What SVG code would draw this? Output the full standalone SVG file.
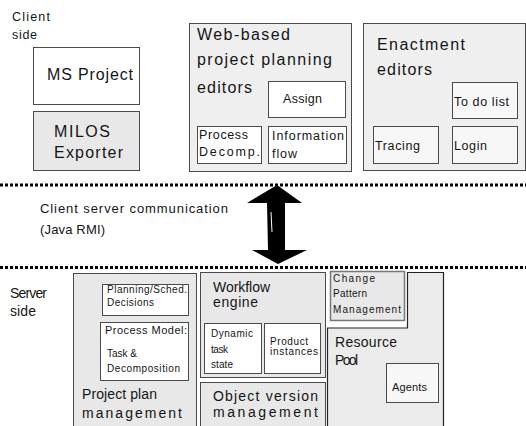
<svg xmlns="http://www.w3.org/2000/svg" width="526" height="426" viewBox="0 0 526 426">
  <style>
    text { font-family: "Liberation Sans", Arial, sans-serif; fill: #151515; }
    .box { stroke: #4a4a4a; stroke-width: 1; }
    .white { fill: #ffffff; }
    .paper { fill: #f7f7f7; }
    .shade { fill: #efefef; }
    .grey { fill: #e8e8e8; }
    .sep { stroke: #000; stroke-width: 3; stroke-dasharray: 3 2; fill: none; }
    .f16 { font-size: 16px; }
    .f14 { font-size: 14px; }
    .f13 { font-size: 13px; }
    .f12 { font-size: 12.5px; }
    .f11 { font-size: 11px; }
    .f10 { font-size: 10px; }
  </style>

  <rect width="526" height="426" fill="#ffffff"/>

  <!-- tier labels -->
  <g id="client-label">
    <text class="f12" x="12" y="21" textLength="38" lengthAdjust="spacing">Client</text>
    <text class="f12" x="12" y="39" textLength="25" lengthAdjust="spacing">side</text>
  </g>
  <g id="server-label">
    <text class="f14" x="10" y="298" textLength="37" lengthAdjust="spacing">Server</text>
    <text class="f14" x="10" y="316" textLength="26" lengthAdjust="spacing">side</text>
  </g>
  <g id="rmi-label">
    <text class="f13" x="40" y="213" textLength="188" lengthAdjust="spacing">Client server communication</text>
    <text class="f13" x="40" y="234" textLength="65" lengthAdjust="spacing">(Java RMI)</text>
  </g>

  <!-- client side -->
  <g id="ms-project">
    <rect class="box white" x="33.5" y="47.5" width="106" height="57"/>
    <text class="f16" x="47" y="80" textLength="86" lengthAdjust="spacing">MS Project</text>
  </g>
  <g id="milos-exporter">
    <rect class="box grey" x="33.5" y="111.5" width="106" height="59"/>
    <text class="f16" x="54" y="137" textLength="56" lengthAdjust="spacing">MILOS</text>
    <text class="f16" x="54" y="158" textLength="69" lengthAdjust="spacing">Exporter</text>
  </g>

  <g id="web-editors">
    <rect class="box shade" x="189.5" y="23.5" width="162" height="148"/>
    <text class="f16" x="197" y="40" textLength="93" lengthAdjust="spacing">Web-based</text>
    <text class="f16" x="197" y="65" textLength="135" lengthAdjust="spacing">project planning</text>
    <text class="f16" x="197" y="93" textLength="55" lengthAdjust="spacing">editors</text>
    <g id="assign">
      <rect class="box white" x="268.5" y="81.5" width="77" height="36"/>
      <text class="f12" x="283" y="103" textLength="39" lengthAdjust="spacing">Assign</text>
    </g>
    <g id="process-decomp">
      <rect class="box white" x="197.5" y="126.5" width="64" height="37"/>
      <text class="f12" x="199" y="139" textLength="49" lengthAdjust="spacing">Process</text>
      <text class="f12" x="199" y="156" textLength="61" lengthAdjust="spacing">Decomp.</text>
    </g>
    <g id="information-flow">
      <rect class="box white" x="268.5" y="126.5" width="78" height="37"/>
      <text class="f12" x="272" y="140" textLength="72" lengthAdjust="spacing">Information</text>
      <text class="f12" x="272" y="158" textLength="25" lengthAdjust="spacing">flow</text>
    </g>
  </g>

  <g id="enactment-editors">
    <rect class="box shade" x="363.5" y="23.5" width="162" height="147"/>
    <text class="f16" x="377" y="50" textLength="88" lengthAdjust="spacing">Enactment</text>
    <text class="f16" x="377" y="75" textLength="55" lengthAdjust="spacing">editors</text>
    <g id="todo-list">
      <rect class="box paper" x="452.5" y="82.5" width="65" height="36"/>
      <text class="f12" x="454" y="106" textLength="55" lengthAdjust="spacing">To do list</text>
    </g>
    <g id="tracing">
      <rect class="box paper" x="373.5" y="126.5" width="65" height="37"/>
      <text class="f12" x="375" y="150" textLength="45" lengthAdjust="spacing">Tracing</text>
    </g>
    <g id="login">
      <rect class="box paper" x="452.5" y="126.5" width="65" height="37"/>
      <text class="f12" x="454" y="150" textLength="33" lengthAdjust="spacing">Login</text>
    </g>
  </g>

  <!-- tier separators -->
  <g id="separators">
    <line class="sep" x1="0" y1="185" x2="526" y2="185"/>
    <line class="sep" x1="0" y1="267.5" x2="526" y2="267.5"/>
  </g>

  <!-- client/server link -->
  <g id="connectors">
    <path d="M277,185 L302,203 L285,203 L285,250 L307,250 L278,264 L252,250 L268,250 L267,203 L247,203 Z" fill="#000"/>
    <path d="M271,212 L272,232" stroke="#ffffff" stroke-width="1" fill="none"/>
  </g>

  <!-- server side -->
  <g id="project-plan-management">
    <rect class="box grey" x="73.5" y="273.5" width="123" height="160"/>
    <g id="planning-decisions">
      <rect class="box white" x="102.5" y="284.5" width="86" height="31"/>
      <text class="f10" x="107" y="293" textLength="80" lengthAdjust="spacing">Planning/Sched.</text>
      <text class="f10" x="107" y="306" textLength="47" lengthAdjust="spacing">Decisions</text>
    </g>
    <g id="process-model">
      <rect class="box white" x="100.5" y="322.5" width="88" height="58"/>
      <text class="f11" x="105" y="334" textLength="82" lengthAdjust="spacing">Process Model:</text>
      <text class="f10" x="107" y="357">Task &amp;</text>
      <text class="f10" x="107" y="372" textLength="73" lengthAdjust="spacing">Decomposition</text>
    </g>
    <text class="f14" x="82" y="399" textLength="75" lengthAdjust="spacing">Project plan</text>
    <text class="f14" x="82" y="418" textLength="100" lengthAdjust="spacing">management</text>
  </g>

  <g id="workflow-engine">
    <rect class="box grey" x="200.5" y="272.5" width="125" height="105"/>
    <text class="f14" x="213" y="292" textLength="57" lengthAdjust="spacing">Workflow</text>
    <text class="f14" x="213" y="307" textLength="45" lengthAdjust="spacing">engine</text>
    <g id="dynamic-task-state">
      <rect class="box white" x="204.5" y="323.5" width="57" height="50"/>
      <text class="f10" x="211" y="337" textLength="42" lengthAdjust="spacing">Dynamic</text>
      <text class="f10" x="211" y="353" textLength="17" lengthAdjust="spacing">task</text>
      <text class="f10" x="211" y="368" textLength="22" lengthAdjust="spacing">state</text>
    </g>
    <g id="product-instances">
      <rect class="box white" x="264.5" y="323.5" width="56" height="50"/>
      <text class="f10" x="270" y="345" textLength="38" lengthAdjust="spacing">Product</text>
      <text class="f10" x="270" y="355" textLength="48" lengthAdjust="spacing">instances</text>
    </g>
  </g>

  <g id="object-version-management">
    <rect class="box grey" x="200.5" y="382.5" width="125" height="60"/>
    <text class="f14" x="213" y="401" textLength="105" lengthAdjust="spacing">Object version</text>
    <text class="f14" x="213" y="417" textLength="105" lengthAdjust="spacing">management</text>
  </g>

  <g id="change-pattern-management">
    <rect x="330.5" y="271.5" width="74" height="49" fill="#e8e8e8" stroke="#777" stroke-width="1.5"/>
    <text class="f10" x="333" y="282" textLength="42" lengthAdjust="spacing">Change</text>
    <text class="f10" x="333" y="297" textLength="34" lengthAdjust="spacing">Pattern</text>
    <text class="f10" x="333" y="313" textLength="68" lengthAdjust="spacing">Management</text>
  </g>

  <g id="resource-pool">
    <path d="M327.5,440 L327.5,328 L407.5,328 L407.5,272.5 L443.5,272.5 L443.5,440" fill="#ebebeb" stroke="#222" stroke-width="1.2"/>
    <text class="f14" x="335" y="347" textLength="62" lengthAdjust="spacing">Resource</text>
    <text class="f14" x="335" y="365" textLength="23" lengthAdjust="spacing">Pool</text>
    <g id="agents">
      <rect class="box paper" x="386.5" y="363.5" width="52" height="39"/>
      <text class="f11" x="392" y="391" textLength="35" lengthAdjust="spacing">Agents</text>
    </g>
  </g>
</svg>
